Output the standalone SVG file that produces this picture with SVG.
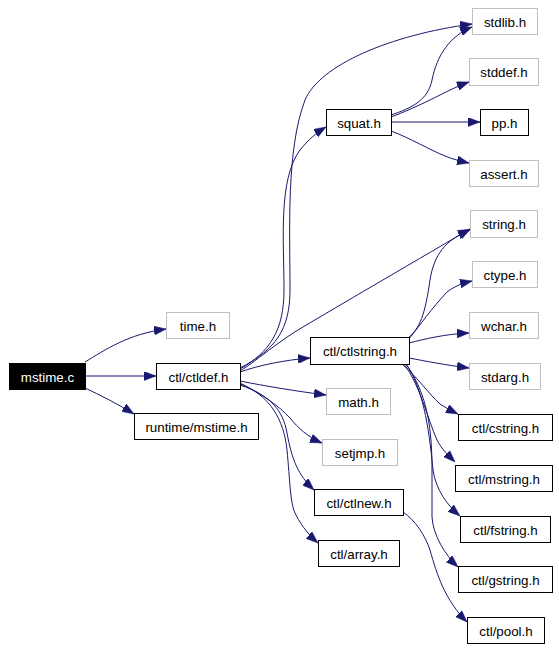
<svg xmlns="http://www.w3.org/2000/svg" width="559" height="650" viewBox="0 0 559 650">
<style>
.n rect{fill:#fff;stroke:#000;stroke-width:1}
.g rect{fill:#fff;stroke:#bfbfbf;stroke-width:1}
.r rect{fill:#000;stroke:#000;stroke-width:1}
text{font-family:"Liberation Sans",Arial,sans-serif;font-size:13.33px;text-anchor:middle;fill:#000}
.r text{fill:#fff}
#edges path{fill:none;stroke:#191970;stroke-width:1;marker-end:url(#ah)}
</style>
<defs>
<marker id="ah" markerUnits="userSpaceOnUse" markerWidth="12" markerHeight="9" refX="12" refY="4.5" orient="auto">
<path d="M0,0 L12,4.5 L0,9 z" fill="#191970" stroke="#191970" stroke-width="0.5"/>
</marker>
</defs>
<rect width="559" height="650" fill="#fff"/>
<g id="edges">
<path d="M85,362 C105,350 128,334 166,329"/>
<path d="M85,376 L156,376"/>
<path d="M85,388 C100,395 118,404 134,414"/>
<path d="M240,369 C270,352 284,330 284,290 C284,240 278,180 300,150 C308,140 316,133 326,127"/>
<path d="M240,368 C275,350 290,330 290,290 C290,230 286,150 305,100 C320,65 390,35 472,24"/>
<path d="M240,371 C255,362 280,340 303,327 C340,305 400,270 470,229"/>
<path d="M240,372 C260,365 285,360 310,358"/>
<path d="M240,381 C265,386 295,391 326,395"/>
<path d="M240,383 C260,393 278,405 290,418 C298,428 308,437 322,443"/>
<path d="M240,385 C270,395 283,410 287,433 C292,460 298,475 314,490"/>
<path d="M240,384 C270,395 284,420 287,450 C290,480 290,505 296,515 C302,527 310,536 318,543"/>
<path d="M391,115 C412,108 428,100 432,80 C437,55 450,36 472,27"/>
<path d="M391,117 C410,110 430,100 440,95 C450,90 458,86 469,82"/>
<path d="M391,122 L480,122"/>
<path d="M391,131 C410,138 430,150 445,156 C452,159 460,161 469,163"/>
<path d="M408,338 C420,328 425,315 430,280 C434,255 445,240 470,230"/>
<path d="M409,339 C420,325 432,308 447,292 C455,286 463,283 472,281"/>
<path d="M409,343 C425,339 445,334 469,333"/>
<path d="M409,358 C425,361 445,365 469,368"/>
<path d="M402,364 C418,378 428,393 440,404 C446,408 452,411 458,414"/>
<path d="M404,364 C420,385 428,420 437,440 C442,450 450,457 455,462"/>
<path d="M406,364 C425,390 430,440 433,470 C436,490 447,505 460,516"/>
<path d="M406,364 C428,395 432,430 432,470 L432,517 C433,535 445,555 458,567"/>
<path d="M403,512 C415,520 425,535 430,550 C437,575 445,600 467,622"/>
</g>
<g id="n_mstime_c" class="r"><rect x="9.5" y="363.5" width="76" height="26"/><text x="47.5" y="381.5">mstime.c</text></g>
<g id="n_time_h" class="g"><rect x="166.5" y="312.5" width="63" height="26"/><text x="198" y="330.5">time.h</text></g>
<g id="n_ctldef_h" class="n"><rect x="156.5" y="363.5" width="84" height="26"/><text x="198.5" y="381.5">ctl/ctldef.h</text></g>
<g id="n_runtime_mstime_h" class="n"><rect x="134.5" y="413.5" width="124" height="26"/><text x="196.5" y="431.5">runtime/mstime.h</text></g>
<g id="n_squat_h" class="n"><rect x="326.5" y="109.5" width="65" height="26"/><text x="359" y="127.5">squat.h</text></g>
<g id="n_ctlstring_h" class="n"><rect x="310.5" y="337.5" width="99" height="27"/><text x="360" y="356">ctl/ctlstring.h</text></g>
<g id="n_math_h" class="g"><rect x="326.5" y="388.5" width="64" height="26"/><text x="358.5" y="406.5">math.h</text></g>
<g id="n_setjmp_h" class="g"><rect x="322.5" y="439.5" width="75" height="26"/><text x="360" y="457.5">setjmp.h</text></g>
<g id="n_ctlnew_h" class="n"><rect x="314.5" y="489.5" width="89" height="26"/><text x="359" y="507.5">ctl/ctlnew.h</text></g>
<g id="n_array_h" class="n"><rect x="318.5" y="540.5" width="81" height="26"/><text x="359" y="558.5">ctl/array.h</text></g>
<g id="n_stdlib_h" class="g"><rect x="472.5" y="8.5" width="65" height="26"/><text x="505" y="26.5">stdlib.h</text></g>
<g id="n_stddef_h" class="g"><rect x="469.5" y="58.5" width="69" height="27"/><text x="504" y="77">stddef.h</text></g>
<g id="n_pp_h" class="n"><rect x="480.5" y="109.5" width="48" height="26"/><text x="504.5" y="127.5">pp.h</text></g>
<g id="n_assert_h" class="g"><rect x="469.5" y="160.5" width="69" height="26"/><text x="504" y="178.5">assert.h</text></g>
<g id="n_string_h" class="g"><rect x="470.5" y="210.5" width="67" height="27"/><text x="504" y="229">string.h</text></g>
<g id="n_ctype_h" class="g"><rect x="472.5" y="261.5" width="65" height="26"/><text x="505" y="279.5">ctype.h</text></g>
<g id="n_wchar_h" class="g"><rect x="469.5" y="312.5" width="69" height="26"/><text x="504" y="330.5">wchar.h</text></g>
<g id="n_stdarg_h" class="g"><rect x="469.5" y="363.5" width="71" height="26"/><text x="505" y="381.5">stdarg.h</text></g>
<g id="n_cstring_h" class="n"><rect x="458.5" y="414.5" width="94" height="26"/><text x="505.5" y="432.5">ctl/cstring.h</text></g>
<g id="n_mstring_h" class="n"><rect x="455.5" y="465.5" width="97" height="26"/><text x="504" y="483.5">ctl/mstring.h</text></g>
<g id="n_fstring_h" class="n"><rect x="460.5" y="516.5" width="90" height="26"/><text x="505.5" y="534.5">ctl/fstring.h</text></g>
<g id="n_gstring_h" class="n"><rect x="458.5" y="566.5" width="94" height="26"/><text x="505.5" y="584.5">ctl/gstring.h</text></g>
<g id="n_pool_h" class="n"><rect x="467.5" y="617.5" width="77" height="26"/><text x="506" y="635.5">ctl/pool.h</text></g>
</svg>
